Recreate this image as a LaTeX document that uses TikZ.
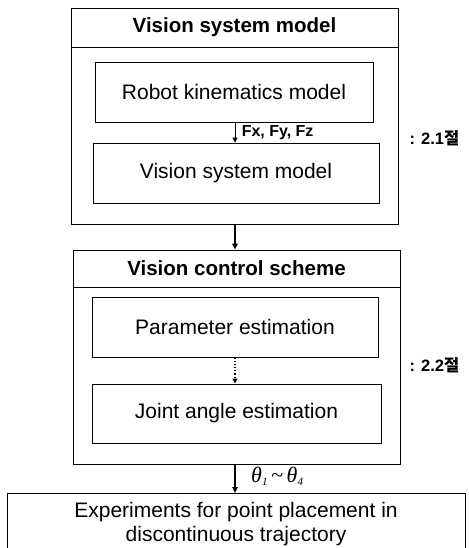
\documentclass[tikz,border=0pt]{standalone}
\usepackage{fontspec}
\setmainfont{Liberation Sans}
\newfontfamily\krfont{Noto Sans CJK KR}
\newfontfamily\serifit{Liberation Serif Italic}
\usetikzlibrary{arrows.meta}

\begin{document}
\begin{tikzpicture}[x=1pt, y=-1pt,
  frame/.style={draw, line width=0.9pt, inner sep=0pt},
  headbox/.style={frame, font=\fontsize{20.5}{24}\selectfont\bfseries},
  stagebox/.style={frame, font=\fontsize{21}{24}\selectfont},
  mainarrow/.style={line width=1.5pt, -{Triangle[length=6pt, width=5.5pt]}},
  thinarrow/.style={line width=0.9pt, -{Triangle[length=5pt, width=5pt]}},
  dotarrow/.style={line width=1.2pt, dotted, -{Triangle[length=5pt, width=5pt]}},
  sidelabel/.style={font=\fontsize{16.5}{18}\selectfont\bfseries, anchor=west}]

\useasboundingbox (0,0) rectangle (468,548);
\clip (0,0) rectangle (468,548);

% arrow column
\coordinate (ax) at (235,0);

% first stage: vision system model
\node[frame, minimum width=327pt, minimum height=216pt] (outerA) at (234.5,116) {};
\node[headbox, minimum width=327pt, minimum height=39pt] (titleA) at (234.5,27.5) {Vision system model};
\node[stagebox, minimum width=278pt, minimum height=60pt] (robot) at (234,92) {Robot kinematics model};
\node[stagebox, minimum width=286pt, minimum height=60pt] (vision) at (236,173) {Vision system model};

% second stage: vision control scheme
\node[frame, minimum width=327pt, minimum height=214pt] (outerB) at (236.5,357) {};
\node[headbox, minimum width=327pt, minimum height=37pt] (titleB) at (236.5,268.5) {Vision control scheme};
\node[stagebox, minimum width=286pt, minimum height=60pt] (param) at (235,327) {Parameter estimation};
\node[stagebox, minimum width=289pt, minimum height=59pt] (joint) at (236.5,413.5) {Joint angle estimation};

% experiments (box runs past the lower edge)
\node[frame, minimum width=458pt, minimum height=80pt, anchor=north] (exp) at (236,493) {};
\node[font=\fontsize{21}{24}\selectfont, align=center] (exptext) at (236,524)
  {Experiments for point placement in\\discontinuous trajectory};

% connectors
\draw[thinarrow] (robot.south -| ax) -- (vision.north -| ax)
  node[midway, right=3pt, font=\fontsize{16}{18}\selectfont\bfseries] (fxyz) {Fx, Fy, Fz};
\draw[mainarrow] (outerA.south -| ax) -- (outerB.north -| ax);
\draw[dotarrow] (param.south -| ax) -- (joint.north -| ax);
\draw[mainarrow] (outerB.south -| ax) -- (exp.north -| ax);
\node[anchor=west, font=\fontsize{22}{24}\selectfont\serifit, inner sep=0pt] (theta) at (251,476)
  {θ\raisebox{-0.3ex}{\fontsize{11}{12}\selectfont 1}\,{\serifit\char"007E}\,θ\raisebox{-0.3ex}{\fontsize{11}{12}\selectfont 4}};

% section references
\node[sidelabel] (secA) at (406,138) {: 2.1{\krfont 절}};
\node[sidelabel] (secB) at (406,365) {: 2.2{\krfont 절}};
\end{tikzpicture}
\end{document}
